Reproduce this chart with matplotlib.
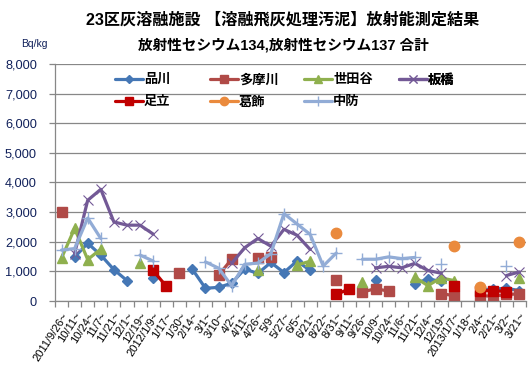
import numpy as np
import matplotlib
matplotlib.use("Agg")
import matplotlib.pyplot as plt

plt.rcParams['font.family'] = ['Liberation Sans', 'Noto Sans CJK JP']

nan = np.nan

# 測定期間 (x軸カテゴリ)
dates = ['2011/9/26~', '10/11~', '10/24~', '11/7~', '11/21~', '12/1~', '12/19~',
         '2012/1/9~', '1/17~', '1/30~', '2/14~', '3/1~', '3/10~', '4/2~', '4/11~',
         '4/26~', '5/9~', '5/27~', '6/5~', '6/21~', '8/22~', '8/31~', '9/11~',
         '9/26~', '10/9~', '10/24~', '11/6~', '11/21~', '12/4~', '12/19~',
         '2013/1/7~', '1/18~', '2/4~', '2/21~', '3/2~', '3/21~']

# 各施設の測定値 (Bq/kg)
shinagawa = [nan, 1480, 1950, 1550, 1060, 690, nan, 770, nan, nan, 1070, 430,
             460, 600, 1080, 930, 1300, 960, 1350, 1030, nan, nan, nan, nan,
             700, nan, nan, 590, 740, 670, nan, nan, 380, 400, 430, 350]
tamagawa = [3000, nan, nan, nan, nan, nan, nan, nan, nan, 930, nan, nan,
            870, 1410, nan, 1450, 1500, nan, nan, nan, nan, 700, nan, 300,
            420, 330, nan, nan, nan, 250, 180, nan, 180, 160, 220, 240]
setagaya = [1450, 2450, 1400, 1750, nan, nan, 1270, nan, nan, nan, nan, nan,
            nan, nan, nan, 1050, nan, nan, 1220, 1340, nan, nan, nan, 650,
            nan, nan, nan, 800, 520, 780, 690, nan, nan, nan, nan, 770]
itabashi = [nan, 1600, 3400, 3770, 2670, 2560, 2560, 2260, nan, nan, nan, nan,
            nan, 1270, 1800, 2110, 1850, 2420, 2220, 1740, nan, nan, nan, nan,
            1120, 1170, 1120, 1270, 1030, 940, nan, nan, nan, nan, 860, 980]
adachi = [nan, nan, nan, nan, nan, nan, nan, 1030, 500, nan, nan, nan,
          nan, nan, nan, nan, nan, nan, nan, nan, nan, 220, 410, nan,
          nan, nan, nan, nan, nan, nan, 500, nan, 350, 350, 320, nan]
katsushika = [nan] * 21 + [2290] + [nan] * 8 + [1840, nan, 470, nan, nan, 1980]
chubo = [1720, 1770, 2800, 2110, nan, nan, 1550, 1350, nan, nan, nan, 1320,
         1110, 520, 1240, 1280, 1600, 2950, 2600, 2250, 1180, 1620, nan, 1410,
         1410, 1490, 1430, 1470, nan, 1260, nan, nan, nan, nan, 1180, nan]

series = [
    ('品川', shinagawa, '#4577B5', 'D', 5.5, 1.0),
    ('多摩川', tamagawa, '#B04A47', 's', 6.5, 1.0),
    ('世田谷', setagaya, '#8FB04E', '^', 7.5, 1.0),
    ('板橋', itabashi, '#735996', 'x', 6.5, 0.8),
    ('足立', adachi, '#C00000', 's', 6.5, 1.0),
    ('葛飾', katsushika, '#EA8A3D', 'o', 7.5, 1.0),
    ('中防', chubo, '#92ACD6', '+', 8.5, 1.0),
]

navy = '#10205a'

fig = plt.figure(figsize=(5.31, 3.71), dpi=100)
ax = fig.add_axes([55 / 531, 70 / 371, 471 / 531, 237 / 371])

x = np.arange(len(dates))
handles = []
for name, vals, color, mk, ms, mew in series:
    ln, = ax.plot(x, np.array(vals, dtype=float), color=color, lw=2.3,
                  marker=mk, markersize=ms, markerfacecolor=color,
                  markeredgecolor=color, markeredgewidth=mew, label=name,
                  solid_capstyle='round', solid_joinstyle='round')
    handles.append(ln)

ax.set_xlim(-0.5, len(dates) - 0.5)
ax.set_ylim(0, 8000)
ax.set_yticks(np.arange(0, 8001, 1000))
ax.set_yticklabels([f'{v:,}' for v in range(0, 8001, 1000)], fontsize=9.2, color=navy)
ax.yaxis.grid(True, color='#878787', lw=0.9)
ax.set_axisbelow(True)

ax.set_xticks(x)
ax.set_xticklabels(dates, rotation=57, ha='right', va='top',
                   rotation_mode='anchor', fontsize=8)
ax.set_xticks(np.arange(-0.5, len(dates), 1), minor=True)
ax.tick_params(axis='x', which='major', length=0, pad=7)
ax.tick_params(axis='x', which='minor', length=4, color='#878787', width=0.9)
ax.tick_params(axis='y', length=4, color='#878787', width=0.9, pad=9)

for s in ['top', 'right']:
    ax.spines[s].set_visible(False)
for s in ['left', 'bottom']:
    ax.spines[s].set_color('#878787')
    ax.spines[s].set_linewidth(0.9)

# 凡例 (4列)
cols = [(115, [0, 4]), (210, [1, 5]), (304, [2, 6]), (399, [3])]
for cx, idx in cols:
    lg = ax.legend([handles[i] for i in idx], [series[i][0] for i in idx],
                   loc='upper left', bbox_to_anchor=(cx / 531, 1 - 74 / 371),
                   bbox_transform=fig.transFigure, frameon=False,
                   prop={'weight': 'bold', 'size': 9.5}, handlelength=2.1,
                   handletextpad=0.1, labelspacing=0.75, borderpad=0,
                   borderaxespad=0, markerscale=0.8)
    ax.add_artist(lg)

fig.text(283 / 531, 1 - 20 / 371, '23区灰溶融施設 【溶融飛灰処理汚泥】放射能測定結果',
         ha='center', va='center', fontsize=11.6, fontweight='bold')
fig.text(283 / 531, 1 - 45 / 371, '放射性セシウム134,放射性セシウム137 合計',
         ha='center', va='center', fontsize=10.5, fontweight='bold')
fig.text(34 / 531, 1 - 44 / 371, 'Bq/kg', ha='center', va='center',
         fontsize=7.5, color=navy)

fig.savefig('out.png', dpi=100)
